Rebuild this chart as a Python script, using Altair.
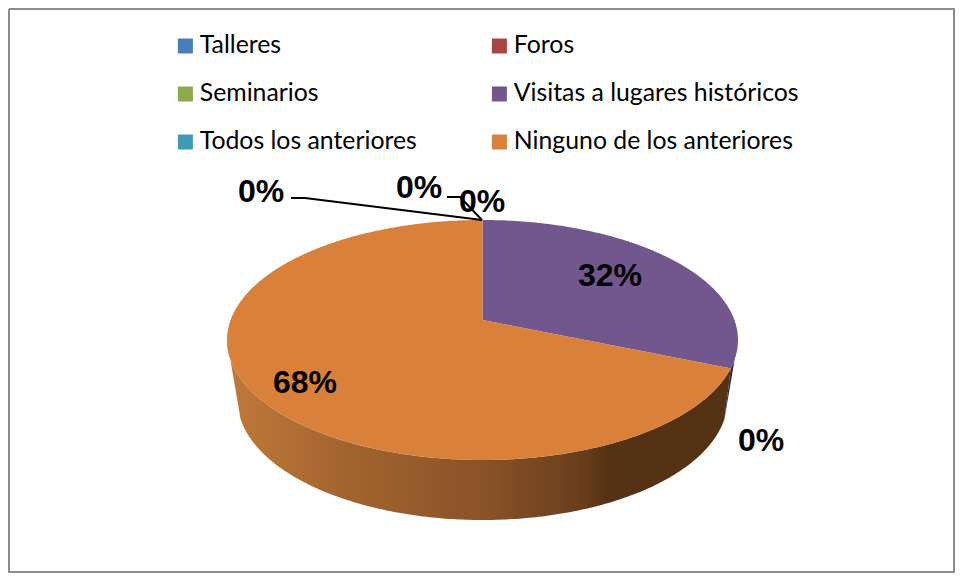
import math
import altair as alt
import pandas as pd

# ---- values ----
CATEGORIES = ["Talleres", "Foros", "Seminarios", "Visitas a lugares históricos",
              "Todos los anteriores", "Ninguno de los anteriores"]
VALUES = [0, 0, 0, 32, 0, 68]
LABELS = ["0%", "0%", "0%", "32%", "0%", "68%"]
COLORS = ["#4A7EBB", "#A94545", "#8CA94B", "#72578F", "#3F9AB3", "#D9803B"]

# ---- geometry of the tilted pie, in page pixels ----
OX, OY = 8, 8
W, H = 947, 565
CX, CY, RX, RY = 482.5, 340.0, 255.5, 120.0
APEX_Y = 320.0
BCY, BRX, BRY = 400.0, 245.0, 120.0
TANGENT = 242.0
LABEL_XY = [(482, 202), (419, 188), (261, 192), (610, 276), (761, 441), (305, 383)]
LEADERS = [[(447, 197), (460, 197), (482, 220)], [(291, 198), (305, 198), (482, 220)]]


def top_up(x):
    return CY - RY * math.sqrt(max(0, 1 - ((x - CX) / RX) ** 2))


def top_lo(x):
    return CY + RY * math.sqrt(max(0, 1 - ((x - CX) / RX) ** 2))


def bot_lo(x):
    return BCY + BRY * math.sqrt(max(0, 1 - ((x - CX) / BRX) ** 2))


def rim(share):
    """Perspective position on the rim for a cumulative share of the pie."""
    t = 2 * math.pi * share * 0.98
    k = 1 / 6
    w = 1 + k * math.cos(t)
    py = APEX_Y - 116.67 * math.cos(t) / w
    px = CX + 252.0 * math.sin(t) / w
    return px, py


def xs(a, b, n=240):
    out = []
    for i in range(n + 1):
        t = math.pi * i / n
        x = CX - RX * math.cos(t)
        if a < x < b:
            out.append(x)
    return [a] + out + [b]


purple_share = VALUES[3] / sum(VALUES)
bx, by = rim(purple_share)
by = top_lo(bx)


def wedge_line(x):
    return APEX_Y + (by - APEX_Y) * (x - CX) / (bx - CX)


rows = []
right = CX + RX
left = CX - RX
for x in xs(CX, right):
    rows.append(dict(cat=CATEGORIES[3], x=x - OX, y=top_up(x) - OY,
                     y2=min(wedge_line(x), top_lo(x)) - OY))
for x in xs(left, CX):
    rows.append(dict(cat=CATEGORIES[5], x=x - OX, y=top_up(x) - OY, y2=top_lo(x) - OY))
for x in xs(CX, bx):
    rows.append(dict(cat=CATEGORIES[5], x=x - OX, y=wedge_line(x) - OY, y2=top_lo(x) - OY))
top_df = pd.DataFrame(rows)

# side wall
tx_r = CX + TANGENT
tx_l = CX - TANGENT
ty = bot_lo(tx_r)


def wall_seam(x):  # wall edge below the slice boundary
    return by + (ty - by) * (bx - x) / (bx - tx_r)


wall = []
for x in xs(left, tx_l):
    wall.append(dict(x=x - OX, y=top_lo(x) - OY,
                     y2=CY + (ty - CY) * (x - left) / (tx_l - left) - OY))
for x in xs(tx_l, tx_r):
    wall.append(dict(x=x - OX, y=top_lo(x) - OY, y2=bot_lo(x) - OY))
for x in xs(tx_r, bx):
    wall.append(dict(x=x - OX, y=top_lo(x) - OY, y2=wall_seam(x) - OY))
wall_df = pd.DataFrame(wall)

dark = []
for x in xs(tx_r, right):
    upper = wall_seam(x) if x < bx else top_lo(x)
    lower = CY + (ty - CY) * (right - x) / (right - tx_r)
    dark.append(dict(x=x - OX, y=upper - OY, y2=max(lower, upper) - OY))
dark_df = pd.DataFrame(dark)

x_enc = alt.X("x:Q", scale=alt.Scale(domain=[0, W], range=[0, W], nice=False, zero=False), axis=None)
y_enc = alt.Y("y:Q", scale=alt.Scale(domain=[0, H], range=[0, H], nice=False, zero=False), axis=None)

wall_layer = alt.Chart(wall_df).mark_area(
    interpolate="linear",
    color=alt.Gradient(
        gradient="linear", x1=0, x2=1, y1=0, y2=0,
        stops=[
            alt.GradientStop(color="#C07A3A", offset=0),
            alt.GradientStop(color="#A4652F", offset=0.22),
            alt.GradientStop(color="#8A5428", offset=0.5),
            alt.GradientStop(color="#6A3E1C", offset=0.7),
            alt.GradientStop(color="#553214", offset=0.76),
            alt.GradientStop(color="#553214", offset=1),
        ],
    ),
).encode(x=x_enc, y=y_enc, y2="y2:Q")

dark_layer = alt.Chart(dark_df).mark_area(color="#2F2547").encode(x=x_enc, y=y_enc, y2="y2:Q")

legend = alt.Legend(
    title=None, orient="none", legendX=165, legendY=24, columns=2, direction="horizontal",
    symbolType="square", symbolSize=225, symbolStrokeWidth=0, symbolOpacity=1,
    labelFont="Lato", labelFontSize=24.8, labelColor="#000000", labelLimit=400,
    columnPadding=70, rowPadding=20, labelOffset=2, clipHeight=28,
)
top_layer = alt.Chart(top_df).mark_area(interpolate="linear").encode(
    x=x_enc, y=y_enc, y2="y2:Q",
    color=alt.Color("cat:N", scale=alt.Scale(domain=CATEGORIES, range=COLORS),
                    sort=CATEGORIES, legend=legend),
)

leader_rows = []
for i, line in enumerate(LEADERS):
    for j, (px, py) in enumerate(line):
        leader_rows.append(dict(line=i, step=j, x=px - OX, y=py - OY))
leader_layer = alt.Chart(pd.DataFrame(leader_rows)).mark_line(
    color="#000000", strokeWidth=2
).encode(x=x_enc, y=y_enc, detail="line:N", order="step:Q")

label_df = pd.DataFrame([
    dict(label=l, x=p[0] - OX, y=p[1] - OY) for l, p in zip(LABELS, LABEL_XY)
])
label_layer = alt.Chart(label_df).mark_text(
    font="Liberation Sans", fontWeight="bold", fontSize=32, color="#000000",
    align="center", baseline="middle",
).encode(x=x_enc, y=y_enc, text="label:N")

frame_df = pd.DataFrame([
    dict(x=1, y=1), dict(x=W - 1, y=1), dict(x=W - 1, y=H - 1),
    dict(x=1, y=H - 1), dict(x=1, y=1)
]).assign(step=range(5))
frame_layer = alt.Chart(frame_df).mark_line(color="#8C8C8C", strokeWidth=2, clip=False).encode(
    x=x_enc, y=y_enc, order="step:Q"
)

chart = alt.layer(
    frame_layer, wall_layer, dark_layer, top_layer, leader_layer, label_layer
).resolve_scale(color="independent").properties(
    width=W, height=H, padding=0,
    autosize=alt.AutoSizeParams(type="none"),
    background="#FFFFFF",
).configure_view(stroke=None)

chart.save("out.html", embed_options={"renderer": "svg", "actions": False})
